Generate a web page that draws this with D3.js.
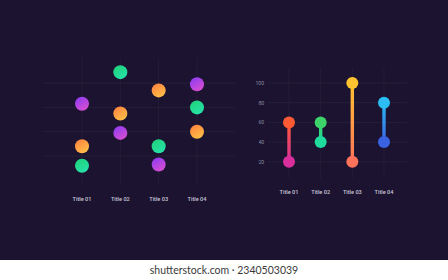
<!DOCTYPE html>
<html>
<head>
<meta charset="utf-8">
<script src="https://cdn.jsdelivr.net/npm/d3@7"></script>
<style>
  html, body { margin: 0; padding: 0; background: #fff; }
  svg { display: block; }
</style>
</head>
<body>
<div id="chart"></div>
<script>
// Left chart: three dots per column
const titles = ["Title 01", "Title 02", "Title 03", "Title 04"];
const purpleVals = [63, 39, 13, 79];
const orangeVals = [28, 55, 74, 40];
const greenVals = [12, 89, 28, 60];

// Right chart: dumbbells
const topVals = [60, 60, 100, 80];
const bottomVals = [20, 40, 20, 40];
const yTicks = [20, 40, 60, 80, 100];

const width = 448, height = 280;
const bg = "#1b1330";
const gridColor = "#262039";

const svg = d3.select("#chart").append("svg")
  .attr("width", width).attr("height", height);

const defs = svg.append("defs");
function grad(id, c1, c2, diag) {
  const g = defs.append("linearGradient").attr("id", id)
    .attr("x1", diag ? "20%" : "0").attr("y1", "0")
    .attr("x2", diag ? "80%" : "0").attr("y2", "1");
  g.append("stop").attr("offset", "0%").attr("stop-color", c1);
  g.append("stop").attr("offset", "100%").attr("stop-color", c2);
}
grad("g-purple", "#8e3cf2", "#dc4fcf", true);
grad("g-orange", "#ff8240", "#ffc247", true);
grad("g-green", "#1fd37a", "#28e2ac", true);

svg.append("rect").attr("width", width).attr("height", 260).attr("fill", bg);

// ---------- left chart ----------
const xL = d3.scalePoint().domain(titles).range([82, 197]);
const yL = d3.scaleLinear().domain([0, 100]).range([180.3, 58.8]);

const left = svg.append("g");
left.selectAll(".hl").data([20, 40, 60, 80]).join("line")
  .attr("x1", 43).attr("x2", 235)
  .attr("y1", d => yL(d)).attr("y2", d => yL(d))
  .attr("stroke", gridColor).attr("stroke-width", 1);
left.selectAll(".vl").data(titles).join("line")
  .attr("x1", d => xL(d)).attr("x2", d => xL(d))
  .attr("y1", 58).attr("y2", 184)
  .attr("stroke", gridColor).attr("stroke-width", 0.8);

const dotSeries = [
  { vals: purpleVals, fill: "url(#g-purple)" },
  { vals: orangeVals, fill: "url(#g-orange)" },
  { vals: greenVals, fill: "url(#g-green)" }
];
dotSeries.forEach(s => {
  left.append("g").selectAll("circle").data(titles).join("circle")
    .attr("cx", d => xL(d))
    .attr("cy", (d, i) => yL(s.vals[i]))
    .attr("r", 7)
    .attr("fill", s.fill);
});

left.selectAll(".lbl").data(titles).join("text")
  .attr("x", d => xL(d)).attr("y", 200.5)
  .attr("text-anchor", "middle")
  .attr("font-family", "Roboto, sans-serif").attr("font-size", 5.6)
  .attr("font-weight", 500).attr("fill", "#c9c5d8")
  .text(d => d);

// ---------- right chart ----------
const xR = d3.scalePoint().domain(titles).range([289, 384]);
const yR = d3.scaleLinear().domain([0, 100]).range([181.5, 83]);

const right = svg.append("g");
right.selectAll(".hl").data(yTicks).join("line")
  .attr("x1", 268).attr("x2", 407)
  .attr("y1", d => yR(d)).attr("y2", d => yR(d))
  .attr("stroke", gridColor).attr("stroke-width", 1);
right.selectAll(".vl").data(titles).join("line")
  .attr("x1", d => xR(d)).attr("x2", d => xR(d))
  .attr("y1", 68).attr("y2", 178)
  .attr("stroke", gridColor).attr("stroke-width", 0.8);

right.selectAll(".tick").data(yTicks).join("text")
  .attr("x", 264).attr("y", d => yR(d) + 1.8)
  .attr("text-anchor", "end")
  .attr("font-family", "Roboto, sans-serif").attr("font-size", 5)
  .attr("fill", "#8f8aa6")
  .text(d => d);

const pairColors = [
  ["#ff5a34", "#d92f9c"],
  ["#3dd36a", "#1fdc9e"],
  ["#ffc42f", "#ff735a"],
  ["#2bbdf3", "#3a63e3"]
];
titles.forEach((t, i) => {
  const id = "lg" + i;
  const g = defs.append("linearGradient").attr("id", id)
    .attr("gradientUnits", "userSpaceOnUse")
    .attr("x1", 0).attr("x2", 0)
    .attr("y1", yR(topVals[i])).attr("y2", yR(bottomVals[i]));
  g.append("stop").attr("offset", "0%").attr("stop-color", pairColors[i][0]);
  g.append("stop").attr("offset", "100%").attr("stop-color", pairColors[i][1]);

  right.append("rect")
    .attr("x", xR(t) - 1.7).attr("width", 3.4)
    .attr("y", yR(topVals[i])).attr("height", yR(bottomVals[i]) - yR(topVals[i]))
    .attr("fill", `url(#${id})`);
  right.append("circle").attr("cx", xR(t)).attr("cy", yR(topVals[i]))
    .attr("r", 6).attr("fill", pairColors[i][0]);
  right.append("circle").attr("cx", xR(t)).attr("cy", yR(bottomVals[i]))
    .attr("r", 6).attr("fill", pairColors[i][1]);
});

right.selectAll(".lbl").data(titles).join("text")
  .attr("x", d => xR(d)).attr("y", 193.8)
  .attr("text-anchor", "middle")
  .attr("font-family", "Roboto, sans-serif").attr("font-size", 5.6)
  .attr("font-weight", 500).attr("fill", "#c9c5d8")
  .text(d => d);

// footer strip
svg.append("text")
  .attr("x", 224).attr("y", 274)
  .attr("text-anchor", "middle")
  .attr("font-family", "Lato, sans-serif").attr("font-size", 10.5)
  .attr("fill", "#3a3a3a")
  .text("shutterstock.com · 2340503039");
</script>
</body>
</html>
